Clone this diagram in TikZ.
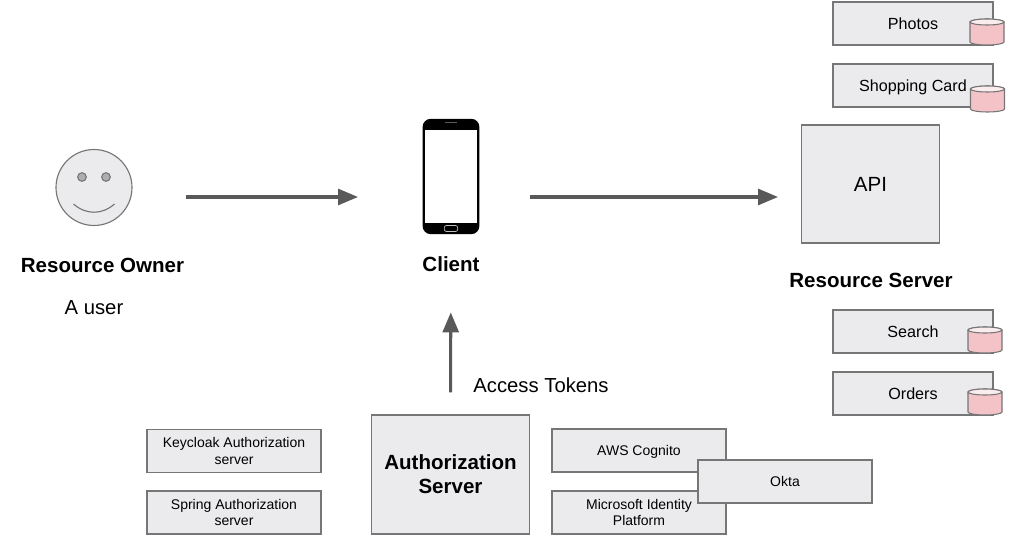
\documentclass[tikz,border=0pt]{standalone}
\usepackage{fontspec}
\setmainfont{Liberation Sans}
\usetikzlibrary{arrows.meta}
\definecolor{boxfill}{HTML}{EBEAEC}
\definecolor{boxline}{HTML}{767676}
\definecolor{arrowgray}{HTML}{595959}
\definecolor{dbfill}{HTML}{F4C3C8}
\definecolor{dbtop}{HTML}{FBEDEE}
\tikzset{x=0.75pt, y=-0.75pt,
box/.style={ % Grey boxes
draw=boxline,
fill=boxfill,
line width=0.85pt,
inner sep=0pt,
align=center},
resbox/.style={box, minimum width=120pt, minimum height=32.25pt, font=\fontsize{12.1}{14}\selectfont},
authbox/.style={box, minimum width=130.5pt, minimum height=32.25pt, font=\fontsize{10.5}{12.4}\selectfont},
dbcan/.pic={ % Small pink cylinders
\draw[boxline, line width=0.8pt, fill=dbfill] (-17,-10) -- (-17,10)
  arc[start angle=180, end angle=360, x radius=12.75pt, y radius=2.25pt] -- (17,-10)
  arc[start angle=0, end angle=180, x radius=12.75pt, y radius=2.25pt] -- cycle;
\draw[boxline, line width=0.8pt, fill=dbtop] (0,-10) ellipse[x radius=12.75pt, y radius=2.25pt];
},
title/.style={font=\fontsize{15.4}{18}\selectfont\bfseries, align=center},
plain/.style={font=\fontsize{15.2}{18}\selectfont},
flow/.style={draw=arrowgray, line width=2.3pt, -{Triangle[length=15pt, width=12pt]}}}
\begin{document}
\begin{tikzpicture}
\useasboundingbox (0,0) rectangle (1011,545);
% Resource owner
\node[circle, draw=boxline, fill=boxfill, line width=0.85pt, minimum size=57pt, inner sep=0pt] (owner) at (94,187.5) {};
\node[circle, draw=boxline, fill=boxline!60, line width=0.8pt, minimum size=6.5pt, inner sep=0pt] (eyel) at (82,177) {};
\node[circle, draw=boxline, fill=boxline!60, line width=0.8pt, minimum size=6.5pt, inner sep=0pt] (eyer) at (106,177) {};
\coordinate (smilel) at (73.5,204);
\coordinate (smiler) at (114.5,204);
\draw[boxline, line width=0.85pt] (smilel) .. controls (86,215) and (102,215) .. (smiler);
\node[title] (ownerlabel) at (102.5,265) {Resource Owner};
\node[plain] (userlabel) at (94,308) {A user};
% Client
\node[draw=none, fill=black, rounded corners=6pt, minimum width=42.5pt, minimum height=86.5pt, inner sep=0pt] (client) at (451,176.5) {};
\node[fill=white, minimum width=39pt, minimum height=70pt, inner sep=0pt] (screen) at (451,176.5) {};
\node[fill=arrowgray, minimum width=9pt, minimum height=1.2pt, inner sep=0pt] (speaker) at (451,122.5) {};
\node[draw=white!75!black, rounded corners=1.5pt, line width=0.5pt, minimum width=10pt, minimum height=4.5pt, inner sep=0pt] (homekey) at (451,228.5) {};
\node[title] (clientlabel) at (451,264) {Client};
% Resource server
\node[box, minimum width=104pt, minimum height=88.5pt, font=\fontsize{15.4}{18}\selectfont] (api) at (870.5,184) {API};
\node[title] (serverlabel) at (871,280) {Resource Server};
\node[resbox] (photos) at (913,23.5) {Photos};
\pic (photosdb) at (987,32) {dbcan};
\node[resbox, text depth=0pt] (shopping) at (913,85.5) {Shopping Card};
\pic (shoppingdb) at (987.5,99) {dbcan};
\node[resbox] (search) at (913,331.5) {Search};
\pic (searchdb) at (985,340) {dbcan};
\node[resbox] (orders) at (913,393.5) {Orders};
\pic (ordersdb) at (985,402) {dbcan};
% Authorization server
\node[box, minimum width=118pt, minimum height=89.25pt, font=\fontsize{15.4}{18}\selectfont\bfseries] (auth) at (450.5,474.5) {Authorization\\Server};
\node[authbox] (keycloak) at (234,451) {Keycloak Authorization\\server};
\node[authbox] (spring) at (234,512.5) {Spring Authorization\\server};
\node[authbox, text depth=0pt] (cognito) at (639,450.5) {AWS Cognito};
\node[authbox] (microsoft) at (639,512.5) {Microsoft Identity\\Platform};
\node[authbox] (okta) at (785,481.5) {Okta};
\node[plain] (tokens) at (541,385) {Access Tokens};
% Arrows
\coordinate (ownerout) at (186,197);
\coordinate (clientin) at (358,197);
\coordinate (clientout) at (530,197);
\coordinate (apiin) at (778,197);
\draw[flow] (ownerout) -- (clientin);
\draw[flow] (clientout) -- (apiin);
\draw[flow, shorten <=16.5pt, shorten >=58.5pt] (auth.north) -- (client.south);
\end{tikzpicture}
\end{document}
